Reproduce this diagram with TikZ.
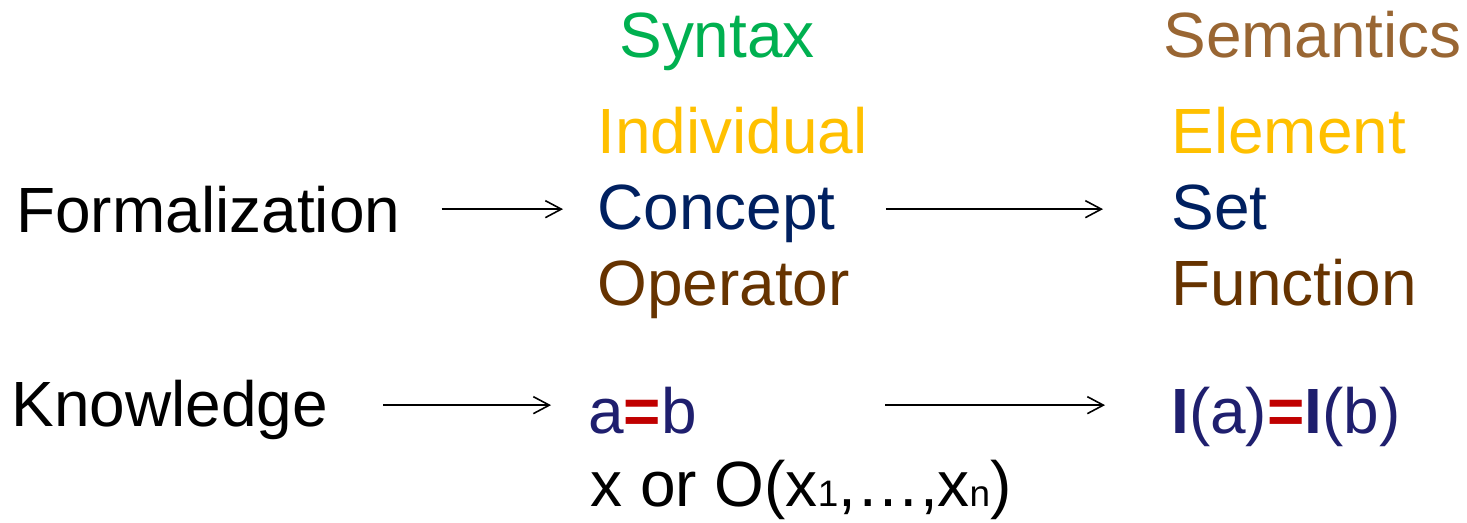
\documentclass[tikz,border=0pt]{standalone}
\usepackage{fontspec}
\setmainfont{Liberation Sans}
\usepackage{tikz}
\usetikzlibrary{arrows.meta,positioning}
\definecolor{syngreen}{HTML}{00B050}
\definecolor{sembrown}{HTML}{996633}
\definecolor{indgold}{HTML}{FFC000}
\definecolor{connavy}{HTML}{002060}
\definecolor{opbrown}{HTML}{663300}
\definecolor{eqnavy}{HTML}{1F1F6E}
\definecolor{eqred}{HTML}{C00000}
\newcommand{\slidefont}{\fontsize{36.4}{43}\selectfont}
\newcommand{\idx}[1]{{\fontsize{21}{21}\selectfont #1}}
\newcommand{\redeq}{\textcolor{eqred}{\textbf{=}}}
\tikzstyle{txt} = [inner sep=0pt, anchor=base west, font=\slidefont]
\tikzstyle{arrow} = [-{Straight Barb[length=3.2mm,width=3.4mm]}, line width=0.9pt, black]

\begin{document}
\begin{tikzpicture}[x=0.02cm, y=-0.02cm]
\useasboundingbox (0,0) rectangle (1467,522);
% column heads
\node[txt, text=syngreen] (syntax) at (619,57) {Syntax};
\node[txt, text=sembrown] (semantics) at (1163,57) {Semantics};
% syntax column
\node[txt, text=indgold] (individual) at (597,153) {Individual};
\node[txt, text=connavy] (concept) at ([yshift=-1.54cm]individual.base west) {Concept};
\node[txt, text=opbrown] (operator) at ([yshift=-1.52cm]concept.base west) {Operator};
% semantics column
\node[txt, text=indgold] (element) at (1171,153) {Element};
\node[txt, text=connavy] (set) at ([yshift=-1.54cm]element.base west) {Set};
\node[txt, text=opbrown] (function) at ([yshift=-1.52cm]set.base west) {Function};
% rows
\node[txt] (formal) at (16,232) {Formalization};
\node[txt] (knowledge) at (11,426) {Knowledge};
\node[txt, text=eqnavy] (aeqb) at (588,433) {a\redeq b};
\node[txt] (xop) at (590,506) {x or O(x\idx{1},…,x\idx{n})};
\node[txt, text=eqnavy] (iaeqib) at (1171,433) {\textbf{I}(a)\redeq\textbf{I}(b)};
\coordinate (krow) at ([yshift=0.1cm]aeqb.west);
% connectors
\draw[arrow, shorten <=0.82cm, shorten >=0.68cm] (formal.east) -- (formal.east -| concept.west);
\draw[arrow, shorten <=1cm, shorten >=1.36cm] (concept.east |- formal.east) -- (formal.east -| set.west);
\draw[arrow, shorten <=1.1cm, shorten >=0.74cm] (knowledge.east |- krow) -- (krow);
\draw[arrow, shorten <=3.76cm, shorten >=1.32cm] (aeqb.east |- krow) -- (iaeqib.west |- krow);
\end{tikzpicture}
\end{document}
